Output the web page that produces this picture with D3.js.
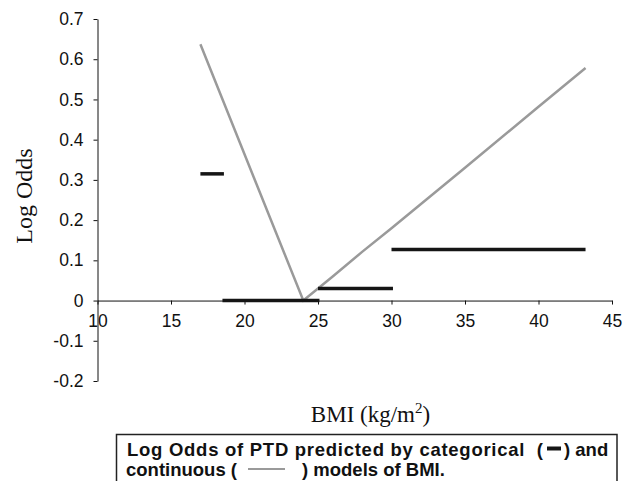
<!DOCTYPE html>
<html>
<head>
<meta charset="utf-8">
<script src="https://d3js.org/d3.v7.min.js"></script>
<style>
  body { margin: 0; background: #fff; }
  svg { display: block; }
</style>
</head>
<body>
<div id="chart"></div>
<script>
// categorical model: BMI ranges and log odds
const catStart = [17, 18.5, 25, 30];
const catEnd = [18.6, 25.1, 30.1, 43.2];
const catValue = [0.315, 0, 0.03, 0.127];

// continuous model
const contBmi = [17, 24, 25, 26, 28, 30, 35, 40, 43.2];
const contValue = [0.637, 0, 0.03, 0.06, 0.121, 0.18, 0.33, 0.482, 0.578];

const xTicks = [10, 15, 20, 25, 30, 35, 40, 45];
const yTicks = [-0.2, -0.1, 0, 0.1, 0.2, 0.3, 0.4, 0.5, 0.6, 0.7];

const width = 629, height = 481;

const svg = d3.select("#chart")
  .append("svg")
  .attr("width", width)
  .attr("height", height);

const x = d3.scaleLinear().domain([10, 45]).range([97.5, 612]);
const y = d3.scaleLinear().domain([-0.2, 0.7]).range([381, 19]);

const sans = "'Liberation Sans', Arial, sans-serif";
const serif = "'Liberation Serif', 'Times New Roman', serif";

// y axis
const yAxis = svg.append("g")
  .attr("transform", `translate(${x(10)},0)`)
  .call(d3.axisLeft(y).tickValues(yTicks).tickSize(4).tickSizeOuter(0)
    .tickFormat(d => d === 0 ? "0" : d.toFixed(1)));
yAxis.selectAll("text").attr("font-family", sans).attr("font-size", 17.5).attr("fill", "#111").attr("x", -14);
yAxis.selectAll("line, path").attr("stroke", "#111");

// x axis at zero
const xAxis = svg.append("g")
  .attr("transform", `translate(0,${y(0)})`)
  .call(d3.axisBottom(x).tickValues(xTicks).tickSize(4).tickSizeOuter(0));
xAxis.selectAll("text").attr("font-family", sans).attr("font-size", 17.5).attr("fill", "#111").attr("y", 14);
xAxis.selectAll("line, path").attr("stroke", "#111");

// continuous line
const line = d3.line()
  .x(d => x(d[0]))
  .y(d => y(d[1]));

svg.append("path")
  .datum(contBmi.map((b, i) => [b, contValue[i]]))
  .attr("fill", "none")
  .attr("stroke", "#9a9a9a")
  .attr("stroke-width", 2.5)
  .attr("d", line);

// categorical segments
svg.selectAll(".cat")
  .data(catValue)
  .enter()
  .append("line")
  .attr("class", "cat")
  .attr("x1", (d, i) => x(catStart[i]))
  .attr("x2", (d, i) => x(catEnd[i]))
  .attr("y1", d => y(d))
  .attr("y2", d => y(d))
  .attr("stroke", "#151515")
  .attr("stroke-width", 3.5);

// axis titles
svg.append("text")
  .attr("transform", "translate(32,196) rotate(-90)")
  .attr("text-anchor", "middle")
  .attr("font-family", serif)
  .attr("font-size", 24)
  .attr("fill", "#111")
  .text("Log Odds");

const xt = svg.append("text")
  .attr("x", 370.5)
  .attr("y", 421.5)
  .attr("text-anchor", "middle")
  .attr("font-family", serif)
  .attr("font-size", 23)
  .attr("fill", "#111");
xt.append("tspan").text("BMI (kg/m");
xt.append("tspan").attr("font-size", 15).attr("dy", -9).text("2");
xt.append("tspan").attr("dy", 9).text(")");

// legend box (runs off the bottom edge, as in the source)
svg.append("rect")
  .attr("x", 116.5)
  .attr("y", 434.5)
  .attr("width", 500.5)
  .attr("height", 80)
  .attr("fill", "#fff")
  .attr("stroke", "#222")
  .attr("stroke-width", 1.5);

function legText(xPos, yPos, str, len) {
  const t = svg.append("text")
    .attr("x", xPos).attr("y", yPos)
    .attr("font-family", sans).attr("font-size", 18.5)
    .attr("font-weight", "bold").attr("fill", "#111")
    .attr("xml:space", "preserve")
    .text(str);
  if (len) t.attr("textLength", len).attr("lengthAdjust", "spacing");
  return t;
}

// row 1: categorical
legText(127, 455.5, "Log Odds of PTD predicted by categorical  (", 416);
svg.append("line")
  .attr("x1", 547).attr("x2", 561)
  .attr("y1", 448.5).attr("y2", 448.5)
  .attr("stroke", "#151515").attr("stroke-width", 4);
legText(564, 455.5, ") and");

// row 2: continuous
legText(126, 476, "continuous (");
svg.append("line")
  .attr("x1", 248).attr("x2", 285)
  .attr("y1", 469).attr("y2", 469)
  .attr("stroke", "#9a9a9a").attr("stroke-width", 2);
legText(302, 476, ") models of BMI.");
</script>
</body>
</html>
